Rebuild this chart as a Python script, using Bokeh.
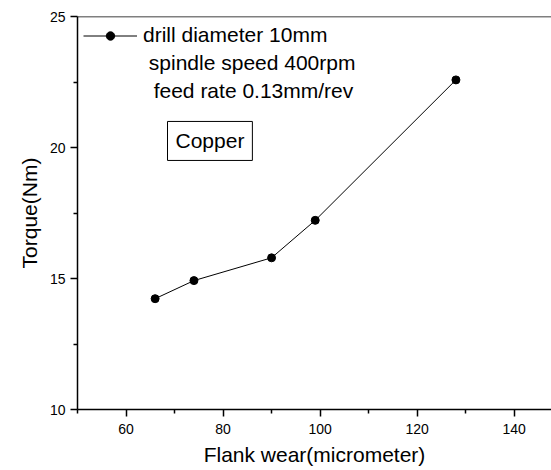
from bokeh.plotting import figure
from bokeh.models import (Range1d, FixedTicker, Label, Legend, LegendItem, Span, Title)
from bokeh.embed import file_html
from bokeh.resources import INLINE

# Torque vs flank wear, copper workpiece
flank_wear = [66, 74, 90, 99, 128]
torque = [14.23, 14.92, 15.79, 17.22, 22.58]

x_major = [60, 80, 100, 120, 140]
x_minor = [50, 70, 90, 110, 130]
y_major = [10, 15, 20, 25]
y_minor = [12.5, 17.5, 22.5]

legend_lines = ["drill diameter 10mm", "spindle speed 400rpm", "feed rate 0.13mm/rev"]
material = "Copper"

FONT = "Liberation Sans"
BIG = "21px"

p = figure(width=551, height=470, output_backend="svg", toolbar_location=None,
           x_range=Range1d(50, 147.7), y_range=Range1d(10, 25),
           min_border_left=77, min_border_right=0, min_border_top=16,
           min_border_bottom=61)
p.background_fill_color = None
p.border_fill_color = "white"
p.outline_line_color = None
p.xgrid.visible = False
p.ygrid.visible = False

# top frame line
p.add_layout(Span(location=25, dimension="width", line_color="black", line_width=1.5))

line = p.line(flank_wear, torque, line_color="black", line_width=1)
dots = p.scatter(flank_wear, torque, size=8, color="black")

for ax, major, minor in ((p.xaxis[0], x_major, x_minor), (p.yaxis[0], y_major, y_minor)):
    ax.ticker = FixedTicker(ticks=major, minor_ticks=minor)
    ax.axis_line_width = 1.5
    ax.major_tick_line_width = 1.5
    ax.minor_tick_line_width = 1.5
    ax.major_tick_in = 0
    ax.minor_tick_in = 0
    ax.major_tick_out = 7
    ax.minor_tick_out = 4
    ax.major_label_text_font = FONT
    ax.major_label_text_font_size = "14px"
    ax.major_label_text_color = "black"
    ax.axis_label_text_font = FONT
    ax.axis_label_text_font_size = BIG
    ax.axis_label_text_font_style = "normal"
    ax.axis_label_text_color = "black"

p.xaxis.axis_label = "Flank wear(micrometer)"
p.xaxis.major_label_standoff = 7
p.xaxis.axis_label_standoff = 6
p.yaxis.major_label_standoff = 5

# y-axis title as a side title, nudged a little below the frame centre
p.add_layout(Title(text="Torque(Nm)", align="center", offset=-30, standoff=12,
                   text_font=FONT, text_font_size=BIG, text_font_style="normal",
                   text_color="black"), "left")

legend = Legend(items=[LegendItem(label=legend_lines[0], renderers=[line, dots])],
                location=(6, 362), border_line_color=None,
                background_fill_alpha=0, padding=0, margin=0,
                glyph_width=54, glyph_height=21, label_height=21,
                label_standoff=6, label_text_font=FONT,
                label_text_font_size=BIG, label_text_color="black")
p.add_layout(legend)

# remaining legend lines, stepped in like the original text block
for txt, lx, ly in ((legend_lines[1], 64.7, 23.25), (legend_lines[2], 65.7, 22.19)):
    p.add_layout(Label(x=lx, y=ly, text=txt, text_font=FONT, text_font_size=BIG,
                       text_baseline="middle", text_color="black"))

p.add_layout(Label(x=77.3, y=20.25, text=material, text_font=FONT, text_font_size=BIG,
                   text_align="center", text_baseline="middle", text_color="black",
                   border_line_color="black", border_line_width=1,
                   background_fill_color="white", padding=8))

open("out.html", "w").write(file_html(p, INLINE))
